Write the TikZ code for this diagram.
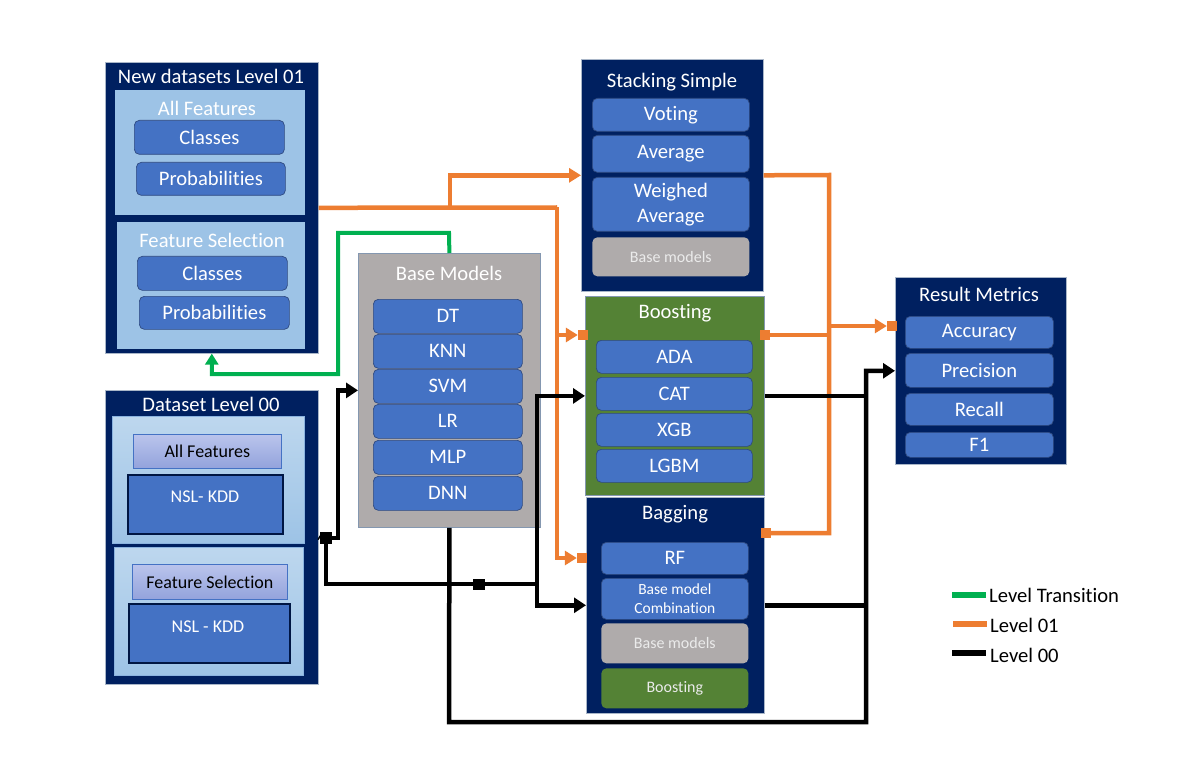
\documentclass[tikz,border=0pt]{standalone}
\usepackage{fontspec}
\setmainfont{Carlito}[Ligatures={NoCommon}]
\usetikzlibrary{arrows.meta}
\definecolor{navy}{HTML}{002060}
\definecolor{mblue}{HTML}{4472C4}
\definecolor{dbord}{HTML}{2F4A80}
\definecolor{lblue}{HTML}{9DC3E6}
\definecolor{llblue}{HTML}{BDD7EE}
\definecolor{mgray}{HTML}{AFABAB}
\definecolor{mgreen}{HTML}{548235}
\definecolor{orng}{HTML}{ED7D31}
\definecolor{lgreen}{HTML}{00B050}
\definecolor{edgegray}{HTML}{8497B0}
\definecolor{lavtop}{HTML}{BAC4EC}
\definecolor{lavbot}{HTML}{93A3DC}
\begin{document}
\begin{tikzpicture}[x=1pt,y=-1pt,
  outer/.style={anchor=north west, inner sep=0, fill=navy, draw=edgegray!70, line width=0.6pt},
  panel/.style={anchor=north west, inner sep=0, fill=lblue},
  dpanel/.style={anchor=north west, inner sep=0, top color=llblue, bottom color=lblue, draw=lblue!80!mblue, line width=0.6pt},
  title/.style={text=white, inner sep=0, font=\fontsize{20.6}{24}\selectfont},
  item/.style={anchor=north west, inner sep=0, fill=mblue, draw=dbord, line width=0.7pt, rounded corners=5pt, text=white, align=center, font=\fontsize{20.6}{25}\selectfont},
  gitem/.style={item, fill=mgray, draw=none, text=white!92!black, font=\fontsize{16}{19}\selectfont},
  grnitem/.style={item, fill=mgreen, draw=none, text=white!92!black, font=\fontsize{16}{19}\selectfont},
  smitem/.style={item, font=\fontsize{15.5}{19}\selectfont},
  lav/.style={anchor=north west, inner sep=0, top color=lavtop, bottom color=lavbot, draw=mblue, line width=0.7pt, text=black, font=\fontsize{18}{21}\selectfont},
  nsl/.style={anchor=north west, inner sep=0, fill=mblue, draw=navy!70!black, line width=2pt},
  nsltext/.style={text=white, inner sep=0, font=\fontsize{18}{21}\selectfont},
  oline/.style={draw=orng, line width=4.5pt},
  bline/.style={draw=black, line width=4.5pt},
  gline/.style={draw=lgreen, line width=4pt},
  otip/.style={-{Triangle[length=12pt,width=14pt]}},
  btip/.style={-{Triangle[length=12pt,width=15pt]}},
  osq/.style={fill=orng, inner sep=0, minimum width=10pt, minimum height=10pt},
  bsq/.style={fill=black, inner sep=0, minimum width=12pt, minimum height=12pt},
  legtext/.style={anchor=west, inner sep=0, text=black, font=\fontsize{20.6}{24}\selectfont}
]
\useasboundingbox[fill=white] (0,0) rectangle (1181,762);

% ---------- New datasets Level 01
\node[outer, minimum width=213pt, minimum height=291pt] (nd1) at (105,62) {};
\node[title] (nd1t) at (211,76) {New datasets Level 01};
\node[panel, minimum width=190pt, minimum height=125pt] (nd1a) at (115,90) {};
\node[title] (nd1at) at (207,108) {All Features};
\node[item, minimum width=150pt, minimum height=34pt] (nd1ac) at (134,120) {Classes};
\node[item, minimum width=149pt, minimum height=33pt] (nd1ap) at (136,162) {Probabilities};
\node[panel, minimum width=188pt, minimum height=127pt] (nd1b) at (117,222) {};
\node[title] (nd1bt) at (212,240) {Feature Selection};
\node[item, minimum width=150pt, minimum height=34pt] (nd1bc) at (137,256) {Classes};
\node[item, minimum width=150pt, minimum height=33pt] (nd1bp) at (139,296) {Probabilities};

% ---------- Dataset Level 00
\node[outer, minimum width=213pt, minimum height=294pt] (ds) at (105,390) {};
\node[title] (dst) at (211,404) {Dataset Level 00};
\node[dpanel, minimum width=192pt, minimum height=127pt] (dsa) at (112,416) {};
\node[lav, minimum width=148pt, minimum height=34pt] (dsaf) at (133,434) {All Features};
\node[nsl, minimum width=155pt, minimum height=59pt] (dsan) at (127,474) {};
\node[nsltext] (dsant) at (205,497) {NSL- KDD};
\node[dpanel, minimum width=189pt, minimum height=128pt] (dsb) at (114,547) {};
\node[lav, minimum width=155pt, minimum height=35pt] (dsbf) at (132,564) {Feature Selection};
\node[nsl, minimum width=161pt, minimum height=59pt] (dsbn) at (128,603) {};
\node[nsltext] (dsbnt) at (208,627) {NSL - KDD};

% ---------- Base Models
\node[anchor=north west, inner sep=0, fill=mgray, draw=edgegray, line width=0.8pt, minimum width=182pt, minimum height=274pt] (bm) at (358,253) {};
\node[title] (bmt) at (449,273) {Base Models};
\node[item, minimum width=149pt, minimum height=34pt] (dt) at (373,299) {DT};
\node[item, minimum width=149pt, minimum height=34pt] (knn) at (373,334) {KNN};
\node[item, minimum width=149pt, minimum height=34pt] (svm) at (373,369) {SVM};
\node[item, minimum width=149pt, minimum height=34pt] (lr) at (373,404) {LR};
\node[item, minimum width=149pt, minimum height=34pt] (mlp) at (373,440) {MLP};
\node[item, minimum width=149pt, minimum height=34pt] (dnn) at (373,476) {DNN};

% ---------- Stacking Simple
\node[outer, minimum width=182pt, minimum height=232pt] (st) at (581,59) {};
\node[title] (stt) at (672,82) {Stacking Simple};
\node[item, minimum width=157pt, minimum height=33pt] (vot) at (592,98) {Voting};
\node[item, minimum width=157pt, minimum height=37pt] (avg) at (592,135) {Average};
\node[item, minimum width=157pt, minimum height=54pt] (wavg) at (592,177) {Weighed\\Average};
\node[gitem, minimum width=157pt, minimum height=39pt] (stbm) at (592,237) {Base models};

% ---------- Boosting
\node[anchor=north west, inner sep=0, fill=mgreen, draw=edgegray, line width=0.8pt, minimum width=179pt, minimum height=199pt] (bo) at (585,296) {};
\node[title] (bot) at (675,313) {Boosting};
\node[item, minimum width=156pt, minimum height=33pt] (ada) at (596,340) {ADA};
\node[item, minimum width=156pt, minimum height=33pt] (cat) at (596,377) {CAT};
\node[item, minimum width=156pt, minimum height=33pt] (xgb) at (596,413) {XGB};
\node[item, minimum width=156pt, minimum height=33pt] (lgbm) at (596,449) {LGBM};

% ---------- Bagging
\node[outer, minimum width=178pt, minimum height=216pt] (ba) at (586,497) {};
\node[title] (bat) at (675,514) {Bagging};
\node[item, minimum width=147pt, minimum height=32pt] (rf) at (601,542) {RF};
\node[smitem, minimum width=147pt, minimum height=41pt] (bmc) at (601,578) {Base model\\Combination};
\node[gitem, minimum width=147pt, minimum height=40pt] (babm) at (601,623) {Base models};
\node[grnitem, minimum width=147pt, minimum height=40pt] (babo) at (601,668) {Boosting};

% ---------- Result Metrics
\node[outer, minimum width=171pt, minimum height=187pt] (rm) at (895,277) {};
\node[title] (rmt) at (979,294) {Result Metrics};
\node[item, minimum width=148pt, minimum height=32pt] (acc) at (905,316) {Accuracy};
\node[item, minimum width=148pt, minimum height=34pt] (prec) at (905,353) {Precision};
\node[item, minimum width=148pt, minimum height=32pt] (rec) at (905,393) {Recall};
\node[item, minimum width=148pt, minimum height=25pt] (f1) at (905,432) {F1};

% ---------- orange connectors (Level 01)
\coordinate (oj1) at (450,207.5);
\coordinate (oj2) at (557,207.5);
\node[osq] (sqboin) at (583,335) {};
\node[osq] (sqbain) at (582,558) {};
\draw[oline] (nd1.east) -- (oj2);
\draw[oline, otip] (oj2) |- (sqbain.west);
\draw[oline, otip] (oj2) |- (sqboin.west);
\draw[oline, otip] (oj1) |- (st.west);

\coordinate (ovt) at (829,175);
\coordinate (ovb) at (829,533);
\node[osq] (sqboout) at (765,335) {};
\node[osq] (sqbaout) at (766,533) {};
\node[osq] (sqrmin) at (892,326) {};
\draw[oline] (st.east) -- (ovt) -- (ovb) -- (sqbaout.east);
\draw[oline] (sqboout.east) -- (sqboout.east -| ovt);
\draw[oline, otip] (sqrmin -| ovt) -- (sqrmin.west);

% ---------- black connectors (Level 00)
\node[bsq] (bj1) at (326,538) {};
\node[bsq, minimum height=11pt] (bj2) at (479,584) {};
\coordinate (bv1) at (338,538);
\coordinate (bc1) at (326,584);
\coordinate (bv2) at (537,584);
\draw[bline] (ds.east) -- (bj1.west);
\draw[bline, btip] (bj1) -- (bv1) |- (bm.west);
\draw[bline] (bj1) -- (bc1) -- (bv2);
\draw[bline, btip] (bv2) |- (bo.west);
\draw[bline, btip] (bv2) |- (ba.west);

\coordinate (bb1) at (449,722);
\coordinate (bb2) at (866,722);
\draw[bline, btip] (bm.south) -- (bb1) -- (bb2) |- (rm.west);
\draw[bline] (bo.east) -- (bo.east -| bb2);
\draw[bline] (ba.east) -- (ba.east -| bb2);

% ---------- green connector (Level Transition)
\coordinate (g1) at (449,233);
\coordinate (g2) at (338,233);
\coordinate (g3) at (338,374);
\draw[gline, -{Triangle[length=11pt,width=13pt]}] (bm.north) -- (g1) -- (g2) -- (g3) -| (nd1.south);

% ---------- legend
\draw[draw=lgreen, line width=6pt] (952,595) -- (986,595);
\node[legtext] (lg1) at (989,595) {Level Transition};
\draw[draw=orng, line width=6pt] (953,624) -- (987,624);
\node[legtext] (lg2) at (990,625) {Level 01};
\draw[draw=black, line width=6pt] (952,653) -- (986,653);
\node[legtext] (lg3) at (990,655) {Level 00};
\end{tikzpicture}
\end{document}
